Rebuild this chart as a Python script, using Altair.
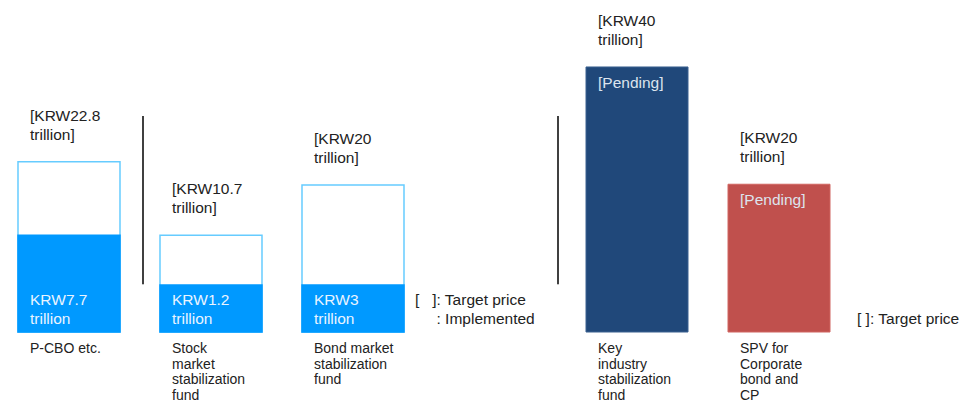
import altair as alt
import pandas as pd

# ---------------- data ----------------
categories = [
    "P-CBO etc.",
    "Stock market stabilization fund",
    "Bond market stabilization fund",
    "Key industry stabilization fund",
    "SPV for Corporate bond and CP",
]
category_labels = [
    "P-CBO etc.",
    "Stock\nmarket\nstabilization\nfund",
    "Bond market\nstabilization\nfund",
    "Key\nindustry\nstabilization\nfund",
    "SPV for\nCorporate\nbond and\nCP",
]
target_trillion = [22.8, 10.7, 20, 40, 20]          # [ ]: target
implemented_trillion = [7.7, 1.2, 3, None, None]    # implemented so far
status = ["implemented", "implemented", "implemented", "pending", "pending"]
# the picture is not drawn to scale: bar heights as drawn, in units where the KRW40tn bar = 40
target_drawn = [25.7, 14.6, 22.2, 40, 22.3]
implemented_drawn = [14.6, 7.1, 7.1, None, None]

slots = [categories[0], categories[1], categories[2], "legend", categories[3], categories[4]]
divider_span = [7.2, 32.6]

legend_target = "[\u00a0\u00a0\u00a0]: Target price"
legend_impl = ": Implemented"
legend_target2 = "[\u00a0]: Target price"

# ---------------- table ----------------
def fmt(v):
    return "{:g}".format(v)

df = pd.DataFrame({
    "slot": categories,
    "label": category_labels,
    "target": target_trillion,
    "implemented": implemented_trillion,
    "status": status,
    "target_drawn": target_drawn,
    "implemented_drawn": implemented_drawn,
})
df["target_text"] = ["[KRW" + fmt(v) + "\ntrillion]" for v in target_trillion]
df["inner_text"] = [
    ("KRW" + fmt(v) + "\ntrillion") if v is not None and v == v else "[Pending]"
    for v in implemented_trillion
]

impl = df[df["status"] == "implemented"]
pend = df[df["status"] == "pending"]

FONT = "Liberation Sans, Arial, sans-serif"
TXT = "#222222"

x_scale = alt.Scale(domain=slots, paddingInner=0.2817, paddingOuter=0.0704)
y_scale = alt.Scale(domain=[0, 48.9], nice=False, zero=True)

def X(**kw):
    return alt.X("slot:N", scale=x_scale, axis=None, **kw)

def Ydrawn(field):
    return alt.Y(field + ":Q", scale=y_scale, axis=None, stack=None)

zero = alt.YDatum(0, scale=y_scale, axis=None, type="quantitative")

outline = alt.Chart(impl).mark_bar(fill="white", stroke="#66CCFF", strokeWidth=1.5).encode(
    x=X(), y=Ydrawn("target_drawn")
)
filled = alt.Chart(impl).mark_bar(fill="#0099FF", stroke="#0099FF", strokeWidth=1.5).encode(
    x=X(), y=Ydrawn("implemented_drawn")
)
pending = alt.Chart(pend).mark_bar(strokeWidth=1).encode(
    x=X(), y=Ydrawn("target_drawn"),
    fill=alt.Fill("slot:N", scale=alt.Scale(domain=categories[3:], range=["#20487A", "#C0504D"]), legend=None),
    stroke=alt.Stroke("slot:N", scale=alt.Scale(domain=categories[3:], range=["#3A6090", "#D06560"]), legend=None),
)

top_text = alt.Chart(df).mark_text(
    align="left", baseline="alphabetic", dx=12, dy=-41, font=FONT, fontSize=15.5,
    lineBreak="\n", lineHeight=19, color=TXT
).encode(x=X(bandPosition=0), y=Ydrawn("target_drawn"), text="target_text:N")

impl_text = alt.Chart(impl).mark_text(
    align="left", baseline="alphabetic", dx=12, dy=-27, font=FONT, fontSize=15.5,
    lineBreak="\n", lineHeight=19, color="#EAF4FF"
).encode(x=X(bandPosition=0), y=zero, text="inner_text:N")

pend_text = alt.Chart(pend).mark_text(
    align="left", baseline="alphabetic", dx=12, dy=21, font=FONT, fontSize=15.5,
    lineBreak="\n", lineHeight=19, color="#DCE4EE"
).encode(x=X(bandPosition=0), y=Ydrawn("target_drawn"), text="inner_text:N")

cat_text = alt.Chart(df).mark_text(
    align="left", baseline="alphabetic", dx=12, dy=21, font=FONT, fontSize=14,
    lineBreak="\n", lineHeight=15.5, color=TXT
).encode(x=X(bandPosition=0), y=zero, text="label:N")

leg1 = alt.Chart(pd.DataFrame({"slot": ["legend"], "t": [legend_target]})).mark_text(
    align="left", baseline="alphabetic", dx=-29, dy=-27, font=FONT, fontSize=15.5, color=TXT
).encode(x=X(bandPosition=0), y=zero, text="t:N")
leg2 = alt.Chart(pd.DataFrame({"slot": ["legend"], "t": [legend_impl]})).mark_text(
    align="left", baseline="alphabetic", dx=-7.5, dy=-8, font=FONT, fontSize=15.5, color=TXT
).encode(x=X(bandPosition=0), y=zero, text="t:N")
leg3 = alt.Chart(pd.DataFrame({"slot": [categories[4]], "t": [legend_target2]})).mark_text(
    align="left", baseline="alphabetic", dx=27, dy=-8, font=FONT, fontSize=15.5, color=TXT
).encode(x=X(bandPosition=1), y=zero, text="t:N")

div1 = alt.Chart(pd.DataFrame({"slot": [categories[0]], "lo": [divider_span[0]], "hi": [divider_span[1]]})).mark_rule(
    color="#404040", strokeWidth=2, xOffset=23
).encode(x=X(bandPosition=1), y=Ydrawn("lo"), y2="hi:Q")
div2 = alt.Chart(pd.DataFrame({"slot": ["legend"], "lo": [divider_span[0]], "hi": [divider_span[1]]})).mark_rule(
    color="#404040", strokeWidth=2, xOffset=12
).encode(x=X(bandPosition=1), y=Ydrawn("lo"), y2="hi:Q")

chart = alt.layer(
    outline, filled, pending, div1, div2, top_text, impl_text, pend_text, cat_text, leg1, leg2, leg3
).properties(
    width=832, height=324,
    background="white",
    autosize=alt.AutoSizeParams(type="none"),
    padding={"left": 0, "top": 0, "right": 123, "bottom": 69},
).configure_view(strokeWidth=0, stroke="transparent")

chart.save("out.html", embed_options={"renderer": "svg", "actions": False})
